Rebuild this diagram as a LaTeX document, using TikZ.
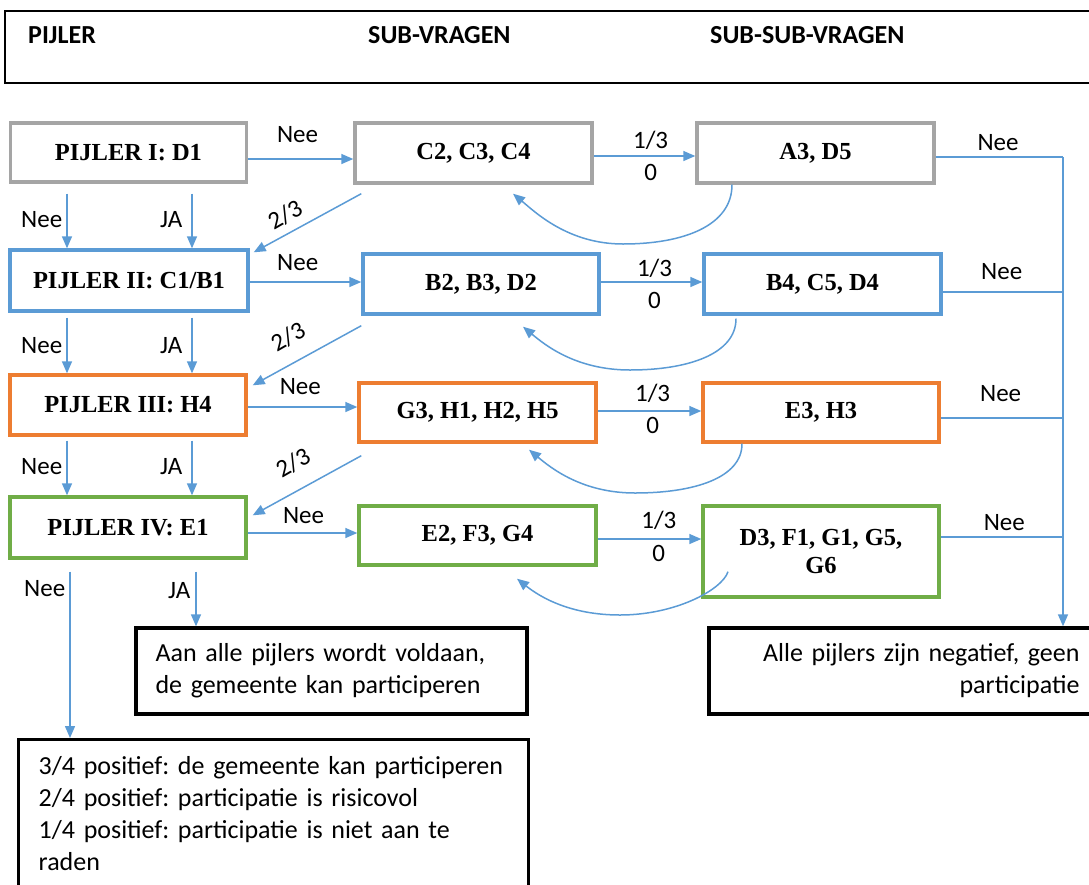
\documentclass[tikz,border=0pt]{standalone}
\usepackage{fontspec}
\setmainfont{Carlito}
\newfontfamily\boxfont{Liberation Serif}
\usetikzlibrary{arrows.meta,calc}
\frenchspacing
\definecolor{cgray}{HTML}{A5A5A5}
\definecolor{cblue}{HTML}{5B9BD5}
\definecolor{corange}{HTML}{ED7D31}
\definecolor{cgreen}{HTML}{70AD47}
\definecolor{carrow}{HTML}{5B9BD5}
\tikzset{
  qbox/.style={draw, line width=3.4pt, inner sep=0pt, align=center,
    font=\boxfont\bfseries\fontsize{24.5}{28}\selectfont},
  arr/.style={draw=carrow, line width=1.5pt, -{Triangle[length=12pt,width=10pt]}},
  ln/.style={draw=carrow, line width=1.5pt},
  lbl/.style={font=\fontsize{25}{30}\selectfont, inner sep=0pt},
  outbox/.style={draw=black, line width=3.4pt, font=\fontsize{26}{32}\selectfont},
  hdrtext/.style={font=\bfseries\fontsize{26}{30}\selectfont, inner sep=0pt, anchor=west},
}
\begin{document}
\begin{tikzpicture}[x=1pt,y=-1pt]
\clip (0,0) rectangle (1089,884);

% column header band
\node[draw=black, line width=1.6pt, minimum width=1095pt, minimum height=72pt] (hdr) at (552.5,47) {};
\node[hdrtext] (h1) at (28,35) {PIJLER};
\node[hdrtext] (h2) at (368,35) {SUB-VRAGEN};
\node[hdrtext] (h3) at (710,35) {SUB-SUB-VRAGEN};

% row 1 (grey)
\node[qbox, draw=cgray, minimum width=236pt, minimum height=59pt] (p1) at (128.5,152.5) {PIJLER I: D1};
\node[qbox, draw=cgray, minimum width=237pt, minimum height=60pt] (s1) at (473.5,153) {C2, C3, C4};
\node[qbox, draw=cgray, minimum width=237pt, minimum height=60pt] (t1) at (815.5,153) {A3, D5};
% row 2 (blue)
\node[qbox, draw=cblue, minimum width=238pt, minimum height=61pt] (p2) at (129,280.5) {PIJLER II: C1/B1};
\node[qbox, draw=cblue, minimum width=236pt, minimum height=60pt] (s2) at (481,284) {B2, B3, D2};
\node[qbox, draw=cblue, minimum width=237pt, minimum height=60pt] (t2) at (822.5,284) {B4, C5, D4};
% row 3 (orange)
\node[qbox, draw=corange, minimum width=236pt, minimum height=60pt] (p3) at (128,405) {PIJLER III: H4};
\node[qbox, draw=corange, minimum width=237pt, minimum height=59pt] (s3) at (477.5,412.5) {G3, H1, H2, H5};
\node[qbox, draw=corange, minimum width=236pt, minimum height=59pt] (t3) at (821,412.5) {E3, H3};
% row 4 (green)
\node[qbox, draw=cgreen, minimum width=236pt, minimum height=61pt] (p4) at (128,527.5) {PIJLER IV: E1};
\node[qbox, draw=cgreen, minimum width=237pt, minimum height=59pt] (s4) at (477.5,535.5) {E2, F3, G4};
\node[qbox, draw=cgreen, minimum width=236pt, minimum height=91pt] (t4) at (821,551.5) {D3, F1, G1, G5,\\G6};

% outcome boxes
\node[outbox, minimum width=391pt, minimum height=86pt, text width=352pt, align=left, inner sep=0pt] (ja) at (331.5,671)
  {Aan alle pijlers wordt voldaan,\\de gemeente kan participeren};
\node[outbox, minimum width=391pt, minimum height=86pt, text width=350pt, align=right, inner sep=0pt] (neg) at (904.5,671)
  {Alle pijlers zijn negatief, geen\\participatie};
\node[outbox, anchor=north west, minimum width=510pt, minimum height=165pt, text width=470pt, align=left,
      inner xsep=20pt, inner ysep=12pt] (res) at (17,738)
  {3/4 positief: de gemeente kan participeren\\2/4 positief: participatie is risicovol\\1/4 positief: participatie is niet aan te\\raden\\[-14pt]\mbox{}};

% helper columns
\coordinate (colN) at (67,0);
\coordinate (colJ) at (192,0);
\coordinate (colNb) at (70,0);
\coordinate (colJb) at (196,0);
\coordinate (rail) at (1063,0);

% vertical Nee / JA arrows between the pillars
\draw[arr] ([yshift=-10pt]p1.south -| colN) -- (p2.north -| colN) node[lbl, pos=0.48, left=4pt] {Nee};
\draw[arr] ([yshift=-10pt]p1.south -| colJ) -- (p2.north -| colJ) node[lbl, pos=0.48, left=9pt] {JA};
\draw[arr] ([yshift=-5pt]p2.south -| colN) -- (p3.north -| colN) node[lbl, pos=0.5, left=4pt] {Nee};
\draw[arr] ([yshift=-5pt]p2.south -| colJ) -- (p3.north -| colJ) node[lbl, pos=0.5, left=9pt] {JA};
\draw[arr] ([yshift=-4pt]p3.south -| colN) -- (p4.north -| colN) node[lbl, pos=0.47, left=4pt] {Nee};
\draw[arr] ([yshift=-4pt]p3.south -| colJ) -- (p4.north -| colJ) node[lbl, pos=0.47, left=9pt] {JA};
\draw[arr] ([yshift=-12pt]p4.south -| colNb) -- (res.north -| colNb) node[lbl, pos=0.1, left=4pt] {Nee};
\draw[arr] ([yshift=-12pt]p4.south -| colJb) -- (ja.north -| colJb) node[lbl, pos=0.34, left=5pt] {JA};

% pillar -> sub-questions
\draw[arr] ([yshift=-6.5pt]p1.east) -- ([yshift=-6.5pt]p1.east -| s1.west) node[lbl, pos=0.47, yshift=24pt] {Nee};
\draw[arr] ([yshift=-1.5pt]p2.east) -- ([yshift=-1.5pt]p2.east -| s2.west) node[lbl, pos=0.43, yshift=19pt] {Nee};
\draw[arr] ([yshift=-2pt]p3.east) -- ([yshift=-2pt]p3.east -| s3.west) node[lbl, pos=0.48, yshift=20pt] {Nee};
\draw[arr] ([yshift=-5.5pt]p4.east) -- ([yshift=-5.5pt]p4.east -| s4.west) node[lbl, pos=0.51, yshift=17pt] {Nee};

% sub-questions -> sub-sub-questions
\draw[arr] ([yshift=-3pt]s1.east) -- ([yshift=-3pt]s1.east -| t1.west)
  node[lbl, pos=0.56, yshift=16pt] {1/3} node[lbl, pos=0.56, yshift=-16pt] {0};
\draw[arr] ([yshift=2pt]s2.east) -- ([yshift=2pt]s2.east -| t2.west)
  node[lbl, pos=0.53, yshift=14pt] {1/3} node[lbl, pos=0.53, yshift=-18pt] {0};
\draw[arr] ([yshift=1.5pt]s3.east) -- ([yshift=1.5pt]s3.east -| t3.west)
  node[lbl, pos=0.53, yshift=18pt] {1/3} node[lbl, pos=0.53, yshift=-14pt] {0};
\draw[arr] ([yshift=-3.5pt]s4.east) -- ([yshift=-3.5pt]s4.east -| t4.west)
  node[lbl, pos=0.59, yshift=19pt] {1/3} node[lbl, pos=0.59, yshift=-14pt] {0};

% 2/3 arrows back to the next pillar
\draw[arr] ([xshift=8pt,yshift=-9pt]s1.south west) -- ([xshift=4pt,yshift=-4pt]p2.north east);
\draw[arr] ([xshift=0pt,yshift=-10pt]s2.south west) -- ([xshift=5pt,yshift=-12pt]p3.north east);
\draw[arr] ([xshift=4pt,yshift=-12pt]s3.south west) -- ([xshift=5pt,yshift=-20pt]p4.north east);
\node[lbl, rotate=30] (f1) at (285,215) {2/3};
\node[lbl, rotate=30] (f2) at (288,337) {2/3};
\node[lbl, rotate=30] (f3) at (293,463) {2/3};

% loops from sub-sub-questions back to sub-questions
\draw[arr] ([xshift=-83.5pt]t1.south) .. controls (732,226) and (683,244) .. (623,244)
  .. controls (568,244) and (535,212) .. ([xshift=39.5pt,yshift=-9pt]s1.south);
\draw[arr] ([xshift=-86.5pt,yshift=-3pt]t2.south) .. controls (736,354) and (688,370) .. (630,370)
  .. controls (576,370) and (545,345) .. ([xshift=42pt,yshift=-11pt]s2.south);
\draw[arr] ([xshift=-79pt]t3.south) .. controls (742,478) and (694,493) .. (635,493)
  .. controls (582,493) and (551,468) .. ([xshift=51.5pt,yshift=-6pt]s3.south);
\draw[arr] ([xshift=-93pt,yshift=27pt]t4.south) .. controls (722,590) and (675,615) .. (620,615)
  .. controls (570,615) and (540,597) .. ([xshift=39.5pt,yshift=-12pt]s4.south);

% Nee exits to the collecting rail
\draw[ln] ([yshift=-4pt]t1.east) -- ([yshift=-4pt]t1.east -| rail) node[lbl, pos=0.49, yshift=14pt] {Nee};
\draw[ln] ([yshift=-8pt]t2.east) -- ([yshift=-8pt]t2.east -| rail) node[lbl, pos=0.49, yshift=20pt] {Nee};
\draw[ln] ([yshift=-5.5pt]t3.east) -- ([yshift=-5.5pt]t3.east -| rail) node[lbl, pos=0.49, yshift=24pt] {Nee};
\draw[ln] ([yshift=14.5pt]t4.east) -- ([yshift=14.5pt]t4.east -| rail) node[lbl, pos=0.52, yshift=14pt] {Nee};
\draw[arr] ([yshift=-4pt]t1.east -| rail) -- (rail |- neg.north);
\end{tikzpicture}
\end{document}
